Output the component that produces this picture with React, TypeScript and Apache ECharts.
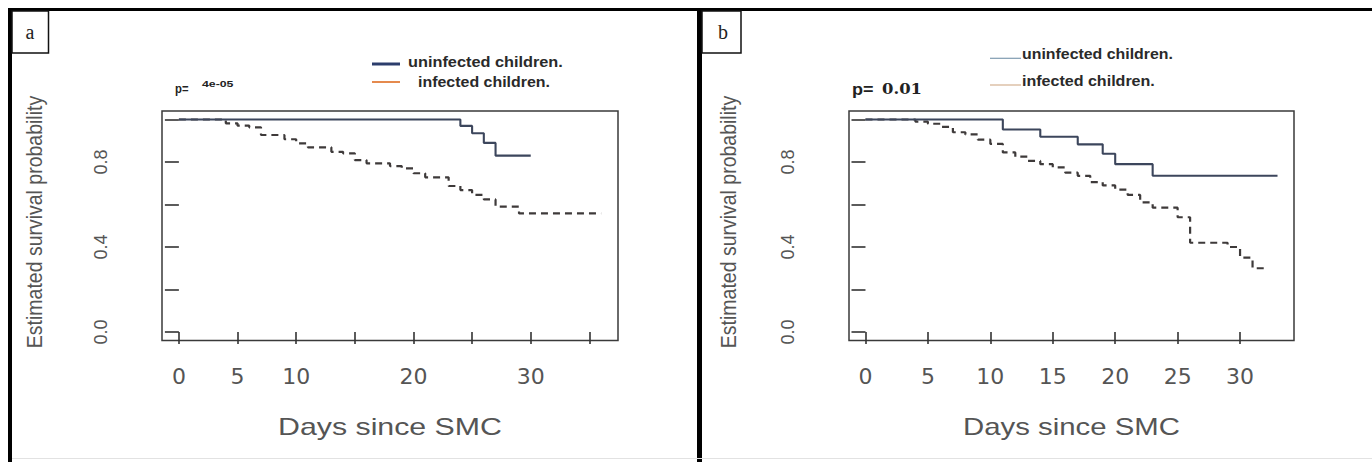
import React, { useEffect, useRef } from "react";
import * as echarts from "echarts";

// ---------- data ----------
const seriesNames = ["uninfected children.", "infected children."];
const panelLabels = ["a", "b"];
const xTitle = "Days since SMC";
const yTitle = "Estimated survival probability";

const yTicks = [0, 0.2, 0.4, 0.6, 0.8, 1.0];
const yTickLabels = [0, 0.4, 0.8];

// panel a
const aXTicks = [0, 5, 10, 15, 20, 25, 30, 35];
const aXTickLabels = [0, 5, 10, 20, 30];
const aUninfDays = [0, 24, 25, 26, 27, 30];
const aUninfSurv = [1, 0.97, 0.935, 0.89, 0.83, 0.83];
const aInfDays = [0, 4, 5, 6, 7, 9, 10, 11, 13, 14, 15, 16, 18, 19, 20, 21, 23, 24, 25, 26, 27, 29, 36];
const aInfSurv = [1, 0.982, 0.971, 0.963, 0.927, 0.907, 0.888, 0.869, 0.848, 0.841, 0.809, 0.794, 0.781, 0.77, 0.747, 0.728, 0.687, 0.668, 0.645, 0.624, 0.59, 0.558, 0.558];
const aPValue = "4e-05";

// panel b
const bXTicks = [0, 5, 10, 15, 20, 25, 30];
const bXTickLabels = [0, 5, 10, 15, 20, 25, 30];
const bUninfDays = [0, 11, 14, 17, 19, 20, 23, 33];
const bUninfSurv = [1, 0.953, 0.919, 0.883, 0.839, 0.79, 0.735, 0.735];
const bInfDays = [0, 4, 5, 6, 7, 8, 9, 10, 11, 12, 13, 14, 15, 16, 17, 18, 19, 20, 21, 22, 23, 25, 26, 29, 30, 31, 32];
const bInfSurv = [1, 0.99, 0.98, 0.965, 0.94, 0.93, 0.905, 0.885, 0.845, 0.825, 0.805, 0.79, 0.775, 0.75, 0.735, 0.705, 0.69, 0.67, 0.645, 0.61, 0.585, 0.54, 0.42, 0.4, 0.35, 0.3, 0.3];
const bPValue = "0.01";

// ---------- helpers ----------
const zip = (d: number[], s: number[]) => d.map((x, i) => [x, s[i]]);

let measureCtx: CanvasRenderingContext2D | null = null;
const measure = (text: string, font: string) => {
  if (!measureCtx) measureCtx = document.createElement("canvas").getContext("2d");
  measureCtx!.font = font;
  return measureCtx!.measureText(text).width || 1;
};

const textStyle = (text: string, font: string, fill: string, align: string) => ({
  text,
  font,
  fill,
  align,
  textAlign: align,
  verticalAlign: "middle",
  textVerticalAlign: "middle",
});

// horizontally fitted text: left edge + target width
const fitText = (text: string, font: string, left: number, width: number, cy: number, fill: string) => ({
  type: "text",
  x: left,
  y: cy,
  scaleX: width / measure(text, font),
  style: textStyle(text, font, fill, "left"),
  z: 10,
});
const fitTextCenter = (text: string, font: string, cx: number, width: number, cy: number, fill: string) => ({
  type: "text",
  x: cx,
  y: cy,
  scaleX: width / measure(text, font),
  style: textStyle(text, font, fill, "center"),
  z: 10,
});

const rect = (x: number, y: number, w: number, h: number, style: any) => ({
  type: "rect",
  shape: { x, y, width: w, height: h },
  style,
  z: 5,
});
const line = (x1: number, y1: number, x2: number, y2: number, stroke: string, lineWidth: number) => ({
  type: "line",
  shape: { x1, y1, x2, y2 },
  style: { stroke, lineWidth },
  z: 10,
});

const tickStyle = { show: true, inside: false, lineStyle: { color: "#333", width: 1.6 } };

const mkX = (gridIndex: number, maxDay: number, ticks: number[], labels: number[]) => ({
  type: "value",
  gridIndex,
  min: -0.04 * maxDay,
  max: 1.04 * maxDay,
  axisLine: { show: false },
  splitLine: { show: false },
  axisTick: { ...tickStyle, length: 12, customValues: ticks },
  axisLabel: {
    customValues: labels,
    margin: 25,
    color: "#555",
    fontFamily: "DejaVu Sans",
    fontSize: 22,
    formatter: (v: number) => String(v),
  },
});

const mkY = (gridIndex: number) => ({
  type: "value",
  gridIndex,
  min: -0.04,
  max: 1.04,
  axisLine: { show: false },
  splitLine: { show: false },
  axisTick: { ...tickStyle, length: 14, customValues: yTicks },
  axisLabel: {
    customValues: yTickLabels,
    rotate: 90,
    margin: 52,
    color: "#555",
    fontFamily: "Liberation Sans",
    fontSize: 18,
    formatter: (v: number) => Number(v).toFixed(1),
  },
});

const solidColor = "#3c465c";
const dashColor = "#3e3a3a";

const mkSeries = (axis: number, days: number[], surv: number[], name: string, dashed: boolean) => ({
  name,
  type: "line",
  xAxisIndex: axis,
  yAxisIndex: axis,
  step: "end",
  symbol: "none",
  showSymbol: false,
  silent: true,
  data: zip(days, surv),
  lineStyle: dashed
    ? { color: dashColor, width: 2.2, type: [7, 5] }
    : { color: solidColor, width: 2.1 },
  z: dashed ? 3 : 4,
});

export default function App() {
  const ref = useRef<HTMLDivElement>(null);

  useEffect(() => {
    if (!ref.current) return;
    const chart = echarts.init(ref.current, undefined, { renderer: "svg" });

    const aMax = Math.max(...aInfDays, ...aUninfDays);
    const bMax = Math.max(...bInfDays, ...bUninfDays);

    const titleFont = '19.5px "Liberation Sans"';
    const xTitleFont = '23px "Liberation Sans"';
    const legendFont = 'bold 14px "Liberation Sans"';
    const gray = "#555";

    const yTitleEl = (x: number) => ({
      type: "text",
      x,
      y: 222,
      rotation: Math.PI / 2,
      scaleY: 1.15,
      style: textStyle(yTitle, titleFont, gray, "center"),
      z: 10,
    });

    const elements: any[] = [
      // frame
      rect(8, 8, 1364, 3, { fill: "#000" }),
      rect(8, 8, 4, 454, { fill: "#000" }),
      rect(697, 8, 5, 454, { fill: "#000" }),
      rect(12, 458, 1360, 1, { fill: "#e2e2e2" }),
      // panel label boxes
      rect(12, 11, 36.5, 42, { fill: "#fff", stroke: "#111", lineWidth: 1.5 }),
      rect(702, 11, 39, 42, { fill: "#fff", stroke: "#111", lineWidth: 1.5 }),
      { type: "text", x: 30, y: 32, style: textStyle(panelLabels[0], '20px "Liberation Serif"', "#222", "center"), z: 10 },
      { type: "text", x: 723, y: 32, style: textStyle(panelLabels[1], '20px "Liberation Serif"', "#222", "center"), z: 10 },

      // panel a legend
      line(372, 64, 400, 64, "#2c3d6c", 3),
      line(372, 82, 400, 82, "#e58a4e", 2),
      fitText(seriesNames[0], legendFont, 408, 155, 62, "#2a2a2a"),
      fitText(seriesNames[1], legendFont, 418, 132, 81.5, "#2a2a2a"),
      // panel b legend
      line(990, 58.3, 1021, 58.3, "#7f9bb0", 1.2),
      line(990, 85, 1021, 85, "#d4b090", 1.2),
      fitText(seriesNames[0], legendFont, 1022, 151, 53.5, "#2a2a2a"),
      fitText(seriesNames[1], legendFont, 1022, 133, 81, "#2a2a2a"),

      // p-values
      fitText("p=", 'bold 13px "Liberation Sans"', 175, 13.5, 88.5, "#222"),
      fitText(aPValue, 'bold 9px "Liberation Sans"', 202, 31.5, 84, "#222"),
      fitText("p=", 'bold 16px "Liberation Sans"', 852, 21.5, 89.4, "#222"),
      fitText(bPValue, 'bold 15px "DejaVu Serif"', 882, 40, 88.7, "#222"),

      // x titles
      fitTextCenter(xTitle, xTitleFont, 390, 224, 427, gray),
      fitTextCenter(xTitle, xTitleFont, 1071.5, 217, 427, gray),
      // y titles
      yTitleEl(33.5),
      yTitleEl(728),
    ];

    const grid = (left: number, width: number) => ({
      left,
      top: 111,
      width,
      height: 229.5,
      show: true,
      borderColor: "#3a3a3a",
      borderWidth: 1.5,
      backgroundColor: "transparent",
      containLabel: false,
      outerBoundsMode: "none",
    });

    const option: any = {
      animation: false,
      backgroundColor: "#fff",
      grid: [grid(162, 456), grid(849, 445)],
      xAxis: [mkX(0, aMax, aXTicks, aXTickLabels), mkX(1, bMax, bXTicks, bXTickLabels)],
      yAxis: [mkY(0), mkY(1)],
      series: [
        mkSeries(0, aUninfDays, aUninfSurv, seriesNames[0], false),
        mkSeries(0, aInfDays, aInfSurv, seriesNames[1], true),
        mkSeries(1, bUninfDays, bUninfSurv, seriesNames[0], false),
        mkSeries(1, bInfDays, bInfSurv, seriesNames[1], true),
      ],
      graphic: { elements },
    };

    chart.setOption(option);
    return () => chart.dispose();
  }, []);

  return (
    <div
      ref={ref}
      style={{ position: "fixed", left: 0, top: 0, width: 1372, height: 462, background: "#fff" }}
    />
  );
}
